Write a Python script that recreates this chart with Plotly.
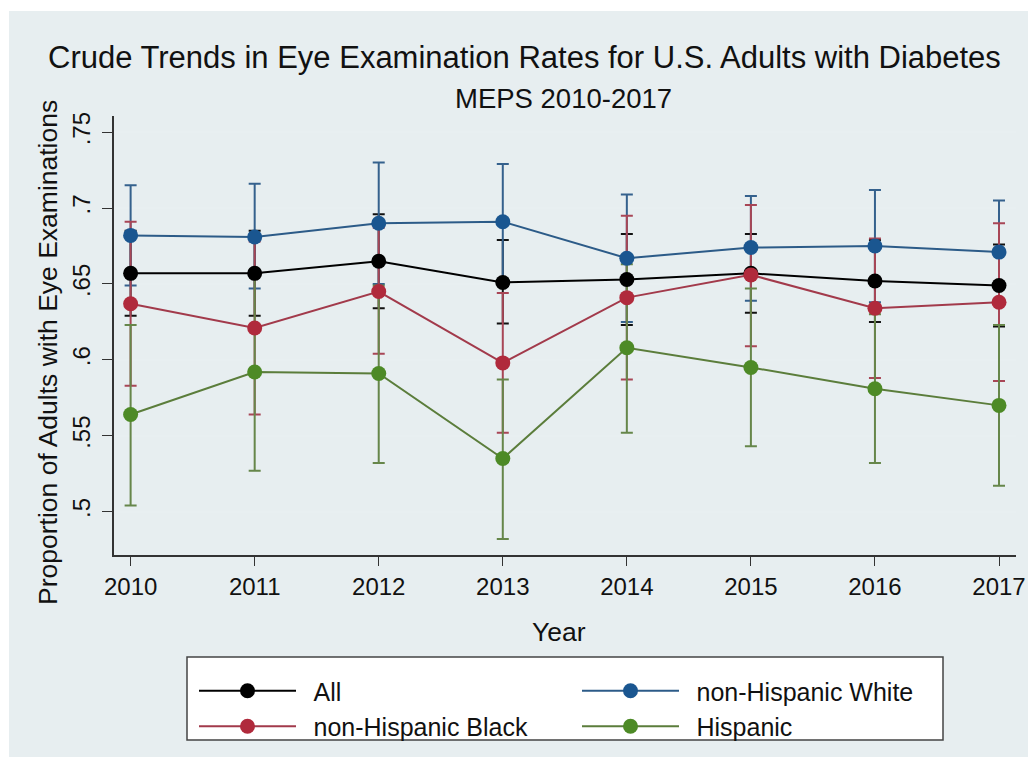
import plotly.graph_objects as go

# Survey years
years = [2010, 2011, 2012, 2013, 2014, 2015, 2016, 2017]

# Crude eye examination proportions with 95% confidence bounds
all_rate = [0.657, 0.657, 0.665, 0.651, 0.653, 0.657, 0.652, 0.649]
all_lo = [0.629, 0.629, 0.634, 0.624, 0.623, 0.631, 0.625, 0.622]
all_hi = [0.685, 0.685, 0.696, 0.679, 0.683, 0.683, 0.679, 0.676]

white_rate = [0.682, 0.681, 0.690, 0.691, 0.667, 0.674, 0.675, 0.671]
white_lo = [0.649, 0.647, 0.650, 0.653, 0.625, 0.639, 0.638, 0.637]
white_hi = [0.715, 0.716, 0.730, 0.729, 0.709, 0.708, 0.712, 0.705]

black_rate = [0.637, 0.621, 0.645, 0.598, 0.641, 0.656, 0.634, 0.638]
black_lo = [0.583, 0.564, 0.604, 0.552, 0.587, 0.609, 0.588, 0.586]
black_hi = [0.691, 0.678, 0.687, 0.644, 0.695, 0.702, 0.680, 0.690]

hisp_rate = [0.564, 0.592, 0.591, 0.535, 0.608, 0.595, 0.581, 0.570]
hisp_lo = [0.504, 0.527, 0.532, 0.482, 0.552, 0.543, 0.532, 0.517]
hisp_hi = [0.623, 0.656, 0.649, 0.587, 0.663, 0.647, 0.630, 0.623]

ytick_vals = [0.5, 0.55, 0.6, 0.65, 0.7, 0.75]
ytick_text = [".5", ".55", ".6", ".65", ".7", ".75"]

W, H = 1028, 757
ML, MR, MT, MB = 114, 12, 116, 202
PW, PH = W - ML - MR, H - MT - MB


def px_x(px):
    return (px - ML) / PW


def px_y(py):
    return (H - MB - py) / PH


FONT = "Liberation Sans, Arial, Helvetica, sans-serif"
TXT = "#111111"
BG = "#e7eef0"
GAP = "\u2002"  # small gap between legend symbol and label

series = [
    ("All", all_rate, all_lo, all_hi, "#000000", "#000000", "#111111"),
    ("non-Hispanic White", white_rate, white_lo, white_hi, "#1a5690", "#2c5b88", "#35618d"),
    ("non-Hispanic Black", black_rate, black_lo, black_hi, "#b02a3c", "#a23a4b", "#a84656"),
    ("Hispanic", hisp_rate, hisp_lo, hisp_hi, "#4d8a26", "#5b7d3b", "#66864a"),
]

fig = go.Figure()

# Confidence interval bars underneath every line
for name, rate, lo, hi, mcol, lcol, ecol in series:
    fig.add_trace(go.Scatter(
        x=years, y=rate, mode="markers",
        marker=dict(size=1, opacity=0),
        error_y=dict(type="data", symmetric=False,
                     array=[h - r for h, r in zip(hi, rate)],
                     arrayminus=[r - l for r, l in zip(rate, lo)],
                     color=ecol, thickness=2, width=6),
        showlegend=False, hoverinfo="skip",
    ))

# Trend lines with point markers
for name, rate, lo, hi, mcol, lcol, ecol in series:
    fig.add_trace(go.Scatter(
        x=years, y=rate, mode="lines+markers", name=GAP + name,
        line=dict(color=lcol, width=2),
        marker=dict(color=mcol, size=15),
    ))

shapes = [
    # light grey-blue backdrop with a thin white edge at top and left
    dict(type="rect", xref="paper", yref="paper",
         x0=px_x(9), x1=px_x(W + 5), y0=px_y(H + 5), y1=px_y(11),
         fillcolor=BG, line=dict(width=0), layer="below"),
    # legend frame
    dict(type="rect", xref="paper", yref="paper",
         x0=px_x(187), x1=px_x(943), y0=px_y(740), y1=px_y(657),
         fillcolor="white", line=dict(width=1.5, color="#444444"), layer="below"),
]

annotations = [
    dict(text="Crude Trends in Eye Examination Rates for U.S. Adults with Diabetes",
         x=px_x(524), y=px_y(58), xref="paper", yref="paper",
         xanchor="center", yanchor="middle",
         showarrow=False, font=dict(size=31, color=TXT, family=FONT)),
    dict(text="MEPS 2010-2017",
         x=px_x(563), y=px_y(99), xref="paper", yref="paper",
         xanchor="center", yanchor="middle",
         showarrow=False, font=dict(size=27.5, color=TXT, family=FONT)),
    dict(text="Year",
         x=px_x(559), y=px_y(632), xref="paper", yref="paper",
         xanchor="center", yanchor="middle",
         showarrow=False, font=dict(size=26.5, color=TXT, family=FONT)),
    dict(text="Proportion of Adults with Eye Examinations", textangle=-90,
         x=px_x(48), y=px_y(353), xref="paper", yref="paper",
         xanchor="center", yanchor="middle",
         showarrow=False, font=dict(size=26.5, color=TXT, family=FONT)),
]

fig.update_layout(
    width=W, height=H,
    margin=dict(l=ML, r=MR, t=MT, b=MB, pad=0, autoexpand=False),
    paper_bgcolor="white", plot_bgcolor="white",
    font=dict(family=FONT, color=TXT),
    shapes=shapes, annotations=annotations,
    legend=dict(
        orientation="h", x=px_x(194), y=px_y(668), xanchor="left", yanchor="top",
        bgcolor="rgba(0,0,0,0)", borderwidth=0,
        font=dict(size=25, family=FONT, color=TXT),
        entrywidth=271, itemwidth=97, traceorder="normal",
    ),
)

fig.update_xaxes(
    range=[2009.866, 2017.137], tickvals=years, ticktext=[str(y) for y in years],
    ticks="outside", ticklen=9, tickcolor="#333333",
    showline=True, linecolor="#333333", linewidth=1.5,
    showgrid=False, zeroline=False,
    tickfont=dict(size=24, family=FONT, color=TXT),
)

fig.update_yaxes(
    range=[0.4714, 0.7607], tickvals=ytick_vals, ticktext=ytick_text,
    tickangle=-90,
    ticks="outside", ticklen=10, tickcolor="#333333",
    showline=True, linecolor="#333333", linewidth=1.5,
    showgrid=True, gridcolor="#e8eff1", gridwidth=1.5, zeroline=False,
    tickfont=dict(size=24, family=FONT, color=TXT),
    ticklabelstandoff=3,
)

fig.write_html("out.html")
